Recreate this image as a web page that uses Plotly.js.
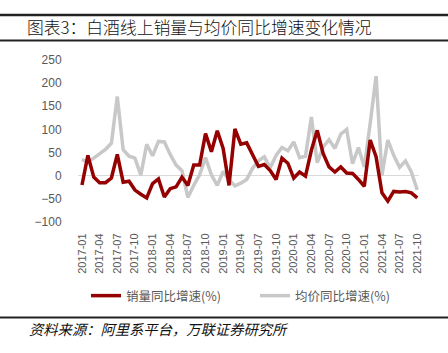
<!DOCTYPE html>
<html><head><meta charset="utf-8">
<script src="https://cdn.plot.ly/plotly-3.0.1.min.js"></script>
<style>html,body{margin:0;padding:0;background:#fff}#chart{width:448px;height:353px}</style>
</head><body><div id="chart"></div>
<script>
const months = ["2017-01","2017-02","2017-03","2017-04","2017-05","2017-06","2017-07","2017-08","2017-09","2017-10","2017-11","2017-12",
"2018-01","2018-02","2018-03","2018-04","2018-05","2018-06","2018-07","2018-08","2018-09","2018-10","2018-11","2018-12",
"2019-01","2019-02","2019-03","2019-04","2019-05","2019-06","2019-07","2019-08","2019-09","2019-10","2019-11","2019-12",
"2020-01","2020-02","2020-03","2020-04","2020-05","2020-06","2020-07","2020-08","2020-09","2020-10","2020-11","2020-12",
"2021-01","2021-02","2021-03","2021-04","2021-05","2021-06","2021-07","2021-08","2021-09","2021-10"];
const salesGrowth = [-20,44,-3,-15,-15,-5,46,-14,-12,-31,-40,-48,
-17,-7,-46,-28,-24,-3,-21,23,23,91,52,97,
59,-21,101,68,71,45,20,24,11,-8,38,27,
-5,8,-1,55,98,48,19,8,19,6,5,-8,
-23,77,41,-37,-55,-34,-35,-34,-37,-48];
const priceGrowth = [35,30,38,48,57,70,171,56,42,38,1,68,
43,74,73,46,23,11,-47,-21,2,39,2,-21,
9,-9,-22,-16,-8,16,32,41,17,44,61,54,
73,39,42,127,28,62,78,59,90,100,26,61,
19,113,215,1,77,44,18,32,8,-31];
const tickMonths = ["2017-01","2017-04","2017-07","2017-10","2018-01","2018-04","2018-07","2018-10",
"2019-01","2019-04","2019-07","2019-10","2020-01","2020-04","2020-07","2020-10","2021-01","2021-04","2021-07","2021-10"];
const seriesNames = ["销量同比增速(%)","均价同比增速(%)"];
const yTicks = [-100,-50,0,50,100,150,200,250];

const baseFont = "Liberation Sans, Arial, Noto Sans CJK SC, sans-serif";
const traces = [
  {x: months, y: priceGrowth, name: seriesNames[1], type: "scatter", mode: "lines",
   line: {color: "#c8c8c8", width: 3.5}, legendrank: 2},
  {x: months, y: salesGrowth, name: seriesNames[0], type: "scatter", mode: "lines",
   line: {color: "#950000", width: 3.5}, legendrank: 1}
];
const pw = 341, ph = 162, ml = 78, mt = 60;
const px = v => (v - ml) / pw;
const py = v => (mt + ph - v) / ph;
const layout = {
  width: 448, height: 353,
  margin: {l: ml, r: 448 - ml - pw, t: mt, b: 353 - mt - ph, pad: 0},
  paper_bgcolor: "#fff", plot_bgcolor: "#fff",
  font: {family: baseFont, color: "#595959", size: 11},
  title: {text: "图表3：白酒线上销量与均价同比增速变化情况", x: 27/448, xanchor: "left", xref: "container",
          y: 1 - 28/353, yanchor: "middle", yref: "container",
          font: {family: "Noto Sans CJK SC, sans-serif", size: 16.8, color: "#111", weight: 300}},
  xaxis: {type: "category", range: [-0.68, 57.3], tickvals: tickMonths, ticktext: tickMonths,
          tickangle: -90, showgrid: false, zeroline: false, showline: false,
          ticks: "outside", ticklen: 6, tickcolor: "rgba(0,0,0,0)",
          tickfont: {size: 11, color: "#595959"}},
  yaxis: {range: [-100, 250], tickvals: yTicks, showgrid: false, zeroline: true,
          zerolinecolor: "#d9d9d9", zerolinewidth: 1.5, showline: false,
          ticks: "outside", ticklen: 13, tickcolor: "rgba(0,0,0,0)",
          tickfont: {size: 12, color: "#595959"}},
  showlegend: true,
  legend: {orientation: "h", x: px(86), xanchor: "left", y: py(296), yanchor: "middle",
           font: {size: 12.5, color: "#595959", family: "Noto Sans CJK SC, sans-serif"},
           itemwidth: 30, entrywidth: 124, tracegroupgap: 0, bgcolor: "rgba(0,0,0,0)"},
  shapes: [
    {type: "line", xref: "paper", yref: "paper", x0: px(0), x1: px(448), y0: py(15), y1: py(15), line: {color: "#222", width: 2.5}},
    {type: "line", xref: "paper", yref: "paper", x0: px(0), x1: px(448), y0: py(40.5), y1: py(40.5), line: {color: "#222", width: 2}},
    {type: "line", xref: "paper", yref: "paper", x0: px(0), x1: px(448), y0: py(317.5), y1: py(317.5), line: {color: "#222", width: 2}}
  ],
  annotations: [
    {text: "<i>资料来源：阿里系平台，万联证券研究所</i>", xref: "paper", yref: "paper", x: px(27), y: py(328),
     xanchor: "left", yanchor: "middle", showarrow: false,
     font: {family: "Noto Sans CJK SC, sans-serif", size: 14.3, color: "#111"}}
  ]
};
Plotly.newPlot("chart", traces, layout, {displayModeBar: false, staticPlot: true});
</script>
</body></html>
